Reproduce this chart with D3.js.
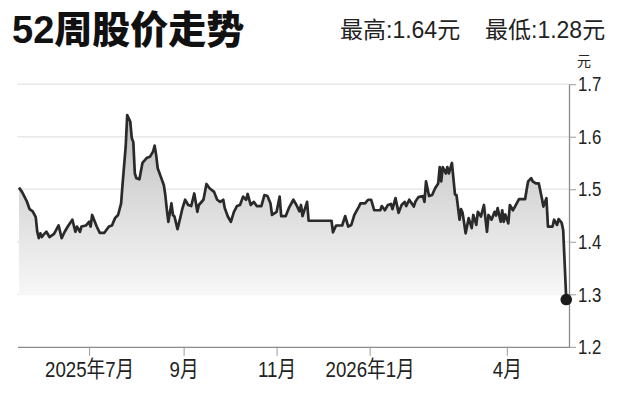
<!DOCTYPE html>
<html>
<head>
<meta charset="utf-8">
<script src="https://cdn.jsdelivr.net/npm/d3@7"></script>
<style>
  html, body { margin: 0; padding: 0; background: #fff; }
  svg { display: block; }
  text { font-family: "Liberation Sans", Arial, "Noto Sans CJK SC", sans-serif; }
</style>
</head>
<body>
<svg id="chart" width="626" height="417"></svg>
<script>
const title = "52周股价走势";
const highText = "最高:1.64元";
const lowText = "最低:1.28元";
const unitText = "元";

const dates = [
"2025-05-16","2025-05-18","2025-05-21","2025-05-23","2025-05-25","2025-05-27","2025-05-28","2025-05-29","2025-05-30","2025-05-31",
"2025-06-01","2025-06-03","2025-06-05","2025-06-08","2025-06-11","2025-06-13","2025-06-15","2025-06-17","2025-06-20","2025-06-22",
"2025-06-23","2025-06-25","2025-06-26","2025-06-29","2025-07-01","2025-07-02","2025-07-03","2025-07-06","2025-07-08","2025-07-11",
"2025-07-14","2025-07-16","2025-07-18","2025-07-20","2025-07-22","2025-07-23","2025-07-25","2025-07-26","2025-07-28","2025-07-29",
"2025-07-30","2025-07-31","2025-08-01","2025-08-03","2025-08-05","2025-08-08","2025-08-10","2025-08-12","2025-08-13","2025-08-14",
"2025-08-15","2025-08-17","2025-08-19","2025-08-20","2025-08-21","2025-08-22","2025-08-24","2025-08-25","2025-08-26","2025-08-28",
"2025-08-30","2025-08-31","2025-09-02","2025-09-04","2025-09-06","2025-09-08","2025-09-10","2025-09-11","2025-09-14","2025-09-16",
"2025-09-18","2025-09-21","2025-09-23","2025-09-25","2025-09-27","2025-09-28","2025-09-30","2025-10-02","2025-10-04","2025-10-06",
"2025-10-08","2025-10-10","2025-10-12","2025-10-13","2025-10-15","2025-10-17","2025-10-19","2025-10-22","2025-10-24","2025-10-26",
"2025-10-28","2025-10-29","2025-11-01","2025-11-03","2025-11-04","2025-11-07","2025-11-09","2025-11-12","2025-11-14","2025-11-16",
"2025-11-17","2025-11-18","2025-11-20","2025-11-21","2025-11-22","2025-12-07","2025-12-08","2025-12-10","2025-12-14","2025-12-16",
"2025-12-18","2025-12-20","2025-12-22","2025-12-25","2025-12-26","2025-12-29","2025-12-31","2026-01-02","2026-01-04","2026-01-08",
"2026-01-09","2026-01-11","2026-01-13","2026-01-15","2026-01-16","2026-01-18","2026-01-20","2026-01-22","2026-01-24","2026-01-25",
"2026-01-27","2026-01-30","2026-01-31","2026-02-02","2026-02-05","2026-02-06","2026-02-07","2026-02-09","2026-02-11","2026-02-13",
"2026-02-15","2026-02-16","2026-02-17","2026-02-18","2026-02-20","2026-02-21","2026-02-22","2026-02-23","2026-02-24","2026-02-26",
"2026-02-27","2026-03-01","2026-03-02","2026-03-03","2026-03-04","2026-03-05","2026-03-07","2026-03-09","2026-03-10","2026-03-12",
"2026-03-13","2026-03-15","2026-03-17","2026-03-19","2026-03-20","2026-03-22","2026-03-24","2026-03-25","2026-03-26","2026-03-28",
"2026-03-29","2026-03-30","2026-03-31","2026-04-02","2026-04-03","2026-04-05","2026-04-06","2026-04-09","2026-04-13","2026-04-14",
"2026-04-15","2026-04-17","2026-04-18","2026-04-20","2026-04-22","2026-04-24","2026-04-25","2026-04-27","2026-04-28","2026-05-01",
"2026-05-02","2026-05-04","2026-05-05","2026-05-07","2026-05-08","2026-05-10"
];

const prices = [
1.503,1.495,1.478,1.462,1.458,1.447,1.419,1.407,1.416,1.409,
1.413,1.419,1.409,1.415,1.431,1.407,1.419,1.429,1.442,1.419,
1.429,1.419,1.429,1.431,1.438,1.429,1.451,1.429,1.417,1.417,
1.429,1.431,1.445,1.451,1.473,1.511,1.581,1.641,1.629,1.597,
1.590,1.530,1.521,1.519,1.550,1.560,1.562,1.572,1.583,1.565,
1.540,1.524,1.508,1.489,1.461,1.438,1.473,1.451,1.448,1.424,
1.448,1.461,1.480,1.470,1.468,1.492,1.457,1.470,1.480,1.510,
1.502,1.495,1.480,1.476,1.480,1.464,1.448,1.438,1.457,1.468,
1.470,1.486,1.480,1.491,1.470,1.476,1.468,1.468,1.489,1.487,
1.473,1.451,1.457,1.486,1.449,1.449,1.464,1.480,1.470,1.458,
1.470,1.449,1.467,1.476,1.440,1.440,1.418,1.431,1.431,1.449,
1.429,1.432,1.451,1.467,1.473,1.473,1.480,1.480,1.460,1.460,
1.468,1.460,1.470,1.472,1.462,1.483,1.455,1.470,1.476,1.468,
1.480,1.467,1.476,1.485,1.487,1.476,1.515,1.487,1.489,1.502,
1.511,1.542,1.515,1.542,1.530,1.542,1.530,1.540,1.550,1.490,
1.489,1.442,1.462,1.455,1.436,1.416,1.445,1.426,1.451,1.432,
1.457,1.448,1.470,1.419,1.451,1.442,1.457,1.450,1.464,1.438,
1.460,1.438,1.452,1.435,1.470,1.460,1.465,1.481,1.481,1.499,
1.515,1.521,1.515,1.511,1.511,1.483,1.467,1.483,1.429,1.429,
1.442,1.432,1.443,1.436,1.422,1.290
];

const yTicks = [1.2, 1.3, 1.4, 1.5, 1.6, 1.7];
const xTickDates = ["2025-07-01","2025-09-01","2025-11-01","2026-01-01","2026-04-01"];
const xTickLabels = ["2025年7月","9月","11月","2026年1月","4月"];
const xDomain = ["2025-05-15","2026-05-12"];

const parse = d3.utcParse("%Y-%m-%d");
const data = dates.map((d, i) => ({ date: parse(d), value: prices[i] }));

const svg = d3.select("#chart");

const x = d3.scaleUtc().domain(xDomain.map(parse)).range([17.45, 569.3]);
const y = d3.scaleLinear().domain([1.2, 1.7]).range([346.8, 84.2]);
const axisX = 569;

// gradient
const defs = svg.append("defs");
const grad = defs.append("linearGradient")
  .attr("id", "fillGrad").attr("gradientUnits", "userSpaceOnUse")
  .attr("x1", 0).attr("x2", 0).attr("y1", y(1.65)).attr("y2", y(1.3));
grad.append("stop").attr("offset", 0).attr("stop-color", "#b8b8b8");
grad.append("stop").attr("offset", 0.45).attr("stop-color", "#d8d8d8");
grad.append("stop").attr("offset", 1).attr("stop-color", "#f7f7f7");

// gridlines
svg.append("g").selectAll("line")
  .data(yTicks.filter(t => t > 1.2))
  .join("line")
  .attr("x1", x.range()[0]).attr("x2", axisX)
  .attr("y1", d => y(d)).attr("y2", d => y(d))
  .attr("stroke", "#e8e8e8").attr("stroke-width", 1.6);

// area
const area = d3.area()
  .x(d => x(d.date))
  .y0(y(1.3) + 1)
  .y1(d => y(d.value));
svg.append("path").datum(data)
  .attr("d", area)
  .attr("fill", "url(#fillGrad)");

// x axis
const gx = svg.append("g")
  .attr("transform", `translate(0,${y(1.2)})`)
  .call(d3.axisBottom(x)
    .tickValues(xTickDates.map(parse))
    .tickSize(9).tickSizeOuter(0).tickPadding(5)
    .tickFormat((d, i) => xTickLabels[i]));
gx.select(".domain").attr("stroke", "#8c8c8c").attr("stroke-width", 1.3);
gx.selectAll(".tick line").attr("stroke", "#9a9a9a").attr("stroke-width", 1);
gx.selectAll(".tick text")
  .attr("font-size", 22.5)
  .attr("fill", "#222")
  .attr("transform", "scale(0.83,1)")
  .attr("font-family", "'Liberation Sans', Arial, 'Noto Sans CJK SC', sans-serif");

// y axis
const gy = svg.append("g")
  .attr("transform", `translate(${axisX},0)`)
  .call(d3.axisRight(y)
    .tickValues(yTicks)
    .tickSize(7).tickSizeOuter(0).tickPadding(3)
    .tickFormat(d3.format(".1f")));
gy.select(".domain").attr("stroke", "#8c8c8c").attr("stroke-width", 1.3);
gy.selectAll(".tick line").attr("stroke", "#9a9a9a").attr("stroke-width", 1);
gy.selectAll(".tick text")
  .attr("font-size", 21)
  .attr("fill", "#222")
  .attr("x", 9 / 0.8)
  .attr("transform", "scale(0.8,1)")
  .attr("font-family", "'Liberation Sans', Arial, sans-serif");

// line
const line = d3.line()
  .x(d => x(d.date))
  .y(d => y(d.value));
svg.append("path").datum(data)
  .attr("d", line)
  .attr("fill", "none")
  .attr("stroke", "#2a2a2a")
  .attr("stroke-width", 2.7)
  .attr("stroke-linejoin", "round");

// end dot
const last = data[data.length - 1];
svg.append("circle")
  .attr("cx", x(last.date)).attr("cy", y(last.value))
  .attr("r", 5.8).attr("fill", "#1c1c1c");

// unit
svg.append("text")
  .attr("x", 584).attr("y", 66)
  .attr("text-anchor", "middle")
  .attr("font-size", 14)
  .attr("fill", "#222")
  .style("font-family", "'Noto Sans CJK SC', sans-serif")
  .text(unitText);

// title
svg.append("text")
  .attr("x", 12).attr("y", 43)
  .attr("font-size", 38)
  .attr("font-weight", 900)
  .attr("fill", "#111")
  .style("font-family", "'Liberation Sans', Arial, 'Noto Sans CJK SC', sans-serif")
  .text(title);

// high / low
svg.append("text")
  .attr("x", 340).attr("y", 38)
  .attr("font-size", 23)
  .attr("fill", "#222")
  .text(highText);
svg.append("text")
  .attr("x", 485).attr("y", 38)
  .attr("font-size", 23)
  .attr("fill", "#222")
  .text(lowText);
</script>
</body>
</html>
